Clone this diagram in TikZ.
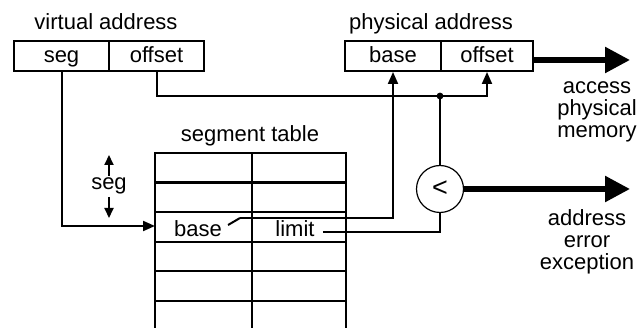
\documentclass[tikz,border=0pt]{standalone}
\usepackage{fontspec}
\setmainfont{Liberation Sans}
\usetikzlibrary{arrows.meta,calc}
\begin{document}
\begin{tikzpicture}[x=1pt,y=-1pt,
  every node/.style={font=\fontsize{22}{22}\selectfont, inner sep=2pt},
  cell/.style={draw, line width=2pt, minimum height=30pt, inner sep=0pt, text height=16pt, text depth=2pt},
  txt/.style={text height=16pt, text depth=2pt},
  wire/.style={line width=2pt},
  arr/.style={wire, -{Triangle[length=12pt,width=10pt]}},
  smallarr/.style={line width=2pt, -{Triangle[length=10pt,width=9pt]}},
  thickarr/.style={line width=5.5pt, -{Triangle[length=25pt,width=25pt]}},
  multi/.style={align=center, font=\fontsize{22}{22}\selectfont}
]
\useasboundingbox (0,0) rectangle (639,328);

% address registers
\node[cell, minimum width=95pt] (vaseg) at (61.5,56) {seg};
\node[cell, minimum width=95pt] (vaoff) at (156.5,56) {offset};
\node[cell, minimum width=96pt] (pabase) at (393,56) {base};
\node[cell, minimum width=92pt] (paoff) at (487,56) {offset};

% labels
\node[anchor=base] (valbl) at (106,30) {virtual address};
\node[anchor=base] (palbl) at (431,30) {physical address};
\node[anchor=base] (stlbl) at (250,142) {segment table};
\node[anchor=base] (seglbl) at (109,190) {seg};
\coordinate (segup) at (109,155);
\coordinate (segdn) at (109,218);
\draw[smallarr] (seglbl.north) -- (segup);
\draw[smallarr] (seglbl.south) -- (segdn);

% segment table
\draw[wire, line width=2.2pt] (155,330) -- (155,153) -- (346,153) -- (346,330);
\draw[wire, line width=2.2pt] (252,153) -- (252,330);
\foreach \r in {182.6,212.2,241.8,271.4,301} \draw[wire, line width=2.2pt] (155,\r) -- (346,\r);
\node[txt] (tbase) at (198,230) {base};
\node[txt] (tlimit) at (295,230) {limit};

% comparator
\node[circle, draw, line width=1.2pt, minimum size=47pt, inner sep=0pt, font=\fontsize{27}{27}\selectfont] (cmp) at (440,189) {<};

% connectors
\coordinate (rowin) at (155,226);
\draw[arr] (vaseg.south) |- (rowin);

\coordinate (jn) at (440,96);
\draw[wire] (vaoff.south) |- (jn);
\draw[arr] (jn) -| (paoff.south);
\draw[wire] (jn) -- (cmp.north);
\fill (jn) circle (3.4pt);

\coordinate (bend) at (240,218);
\draw[wire] ($(tbase.east)+(4,-5)$) -- (bend);
\draw[arr] (bend) -| (pabase.south);

\draw[wire] ($(tlimit.east)+(6,2)$) -| (cmp.south);

% outputs
\coordinate (mem) at (630,60);
\coordinate (err) at (630,189);
\draw[thickarr] (paoff.east |- mem) -- (mem);
\draw[thickarr] (cmp.east) -- (err);
\node[multi] (memlbl) at (597,112) {access\\physical\\memory};
\node[multi] (errlbl) at (587,241.4) {address\\error\\exception};
\end{tikzpicture}
\end{document}
